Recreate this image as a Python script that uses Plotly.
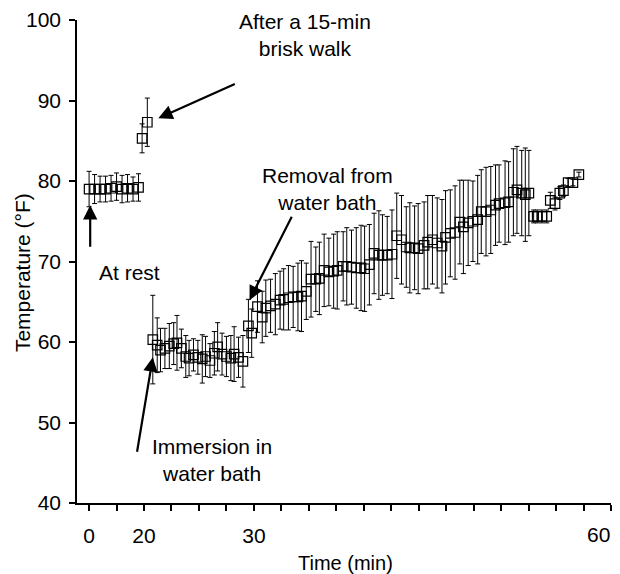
import numpy as np
import plotly.graph_objects as go

# ---------------- data (time in minutes, temperature in °F, ± error) -------------
rest_time = [0, 2, 4, 6, 8, 10, 12, 14, 16, 18]
rest_temp = [79.0, 79.0, 79.0, 79.0, 79.1, 79.3, 79.0, 79.1, 79.0, 79.2]
rest_err = [2.2, 1.8, 1.6, 1.6, 1.6, 1.7, 1.7, 1.7, 1.5, 1.7]

walk_time = [19.3, 20.3]
walk_temp = [85.3, 87.3]
walk_err = [1.8, 3.0]

immersion_time = [20.8, 21.2, 21.5, 21.9, 22.3, 22.7, 23.0, 23.4, 23.8, 24.1, 24.5, 24.9,
                  25.3, 25.6, 26.0, 26.4, 26.7, 27.1, 27.5, 27.9, 28.2, 28.6, 29.0]
immersion_temp = [60.3, 59.6, 59.0, 59.2, 59.5, 59.8, 59.9, 59.2, 58.2, 58.0, 58.4, 58.1,
                  57.9, 58.2, 57.7, 58.6, 59.4, 58.5, 58.2, 58.0, 58.5, 58.1, 57.6]
immersion_err = [5.5, 3.4, 2.7, 2.5, 2.8, 2.6, 3.4, 2.4, 2.6, 2.2, 2.0, 2.1,
                 3.0, 2.5, 2.1, 2.7, 3.0, 2.6, 2.5, 2.8, 3.4, 2.5, 3.2]

recovery_time = [29.5, 29.8, 30.3, 30.7, 31.0, 31.4, 31.8, 32.2, 32.5, 32.9, 33.3, 33.7,
                 34.0, 34.4, 34.8, 35.2, 35.5, 35.9, 36.3, 36.7, 37.0, 37.5, 37.8, 38.2,
                 38.6, 39.0, 39.3, 39.7, 40.1, 40.5, 40.8, 41.2, 41.6, 42.0, 42.4, 42.8,
                 43.1, 43.5, 43.8, 44.3, 44.6, 45.0, 45.4, 45.8, 46.1, 46.5, 46.9, 47.3,
                 47.6, 48.0, 48.4, 48.8, 49.1, 49.5, 49.9, 50.3, 50.6, 51.1, 51.4, 51.8,
                 52.1, 52.5, 52.8, 53.1, 53.5, 53.8, 54.2, 54.6, 54.9, 55.3, 55.7, 56.0,
                 56.4, 56.8, 57.3]
recovery_temp = [62.0, 61.1, 64.4, 63.1, 64.2, 64.5, 64.7, 65.2, 65.3, 65.5, 65.6, 65.6,
                 65.7, 66.3, 67.8, 67.8, 67.9, 68.9, 68.7, 68.8, 68.9, 69.4, 69.4, 69.3,
                 69.2, 69.2, 69.1, 69.6, 71.0, 70.8, 70.8, 70.8, 70.9, 73.2, 72.7, 71.8,
                 71.7, 71.7, 71.6, 72.0, 72.4, 72.7, 72.3, 71.9, 73.0, 73.5, 73.6, 74.9,
                 74.3, 74.8, 75.0, 75.2, 76.2, 76.2, 76.4, 77.0, 77.2, 77.3, 77.4, 78.6,
                 78.9, 78.5, 78.3, 78.5, 75.6, 75.6, 75.6, 75.6, 77.6, 77.2, 78.5, 78.8,
                 79.8, 79.8, 80.8]
recovery_err = [3.3, 3.0, 3.2, 3.2, 3.5, 3.3, 3.8, 3.6, 3.8, 4.0, 3.8, 4.2,
                4.4, 3.5, 4.7, 4.0, 4.5, 4.5, 4.2, 4.6, 4.8, 4.3, 4.8, 4.6,
                5.0, 5.3, 5.3, 5.0, 5.0, 5.5, 5.0, 4.8, 5.5, 5.3, 5.5, 5.0,
                5.6, 5.2, 5.6, 5.4, 5.8, 5.5, 5.6, 5.8, 5.8, 5.4, 5.8, 5.2,
                5.8, 5.3, 5.0, 5.5, 5.2, 5.5, 5.4, 5.0, 4.8, 5.2, 5.0, 5.4,
                5.4, 5.3, 5.8, 5.3, 0.8, 0.8, 0.8, 0.8, 1.0, 0.8, 0.8, 0.7,
                0.5, 0.4, 0.3]

# broken time axis: minutes -> axis position (0->0, 20->2, 30->6, 60->19)
axis_min = [0, 20, 30, 60]
axis_pos = [0, 2, 6, 19]
tick_labels = {0: "0", 2: "20", 6: "30"}


def to_axis(t):
    return np.interp(t, axis_min, axis_pos)


FONT = "Liberation Sans, Arial, Helvetica, sans-serif"
fig = go.Figure()

for t, y, e in [(rest_time, rest_temp, rest_err),
                (walk_time, walk_temp, walk_err),
                (immersion_time, immersion_temp, immersion_err),
                (recovery_time, recovery_temp, recovery_err)]:
    fig.add_trace(go.Scatter(
        x=to_axis(t), y=y, mode="markers",
        marker=dict(symbol="square-open", size=9.5, color="black", line=dict(width=1.2)),
        error_y=dict(type="data", array=e, visible=True, color="#000", thickness=1, width=2.5),
        showlegend=False, hoverinfo="skip", cliponaxis=False))

tickvals = list(range(0, 20))
ticktext = [tick_labels.get(v, "") for v in tickvals]

# the page body adds an 8px offset; the figure is sized to fill the rest of the window
fig.update_layout(
    width=612, height=566,
    margin=dict(l=69, r=9, t=12, b=71),
    paper_bgcolor="white", plot_bgcolor="white",
    font=dict(family=FONT, size=21, color="black"),
    xaxis=dict(range=[-0.44, 19.0], tickvals=tickvals, ticktext=ticktext,
               ticks="outside", ticklen=6, tickwidth=1.5, tickcolor="black",
               showline=True, linecolor="black", linewidth=1.5,
               showgrid=False, zeroline=False, ticklabelstandoff=7,
               automargin=False),
    yaxis=dict(range=[40, 100], tickvals=[40, 50, 60, 70, 80, 90, 100],
               ticks="outside", ticklen=6, tickwidth=1.5, tickcolor="black",
               showline=True, linecolor="black", linewidth=1.5,
               showgrid=False, zeroline=False, ticklabelstandoff=4,
               automargin=False),
)

# last x tick label, nudged inside the figure as in the reference
fig.add_annotation(x=19, y=0, xref="x", yref="paper", yshift=-31, xshift=1,
                   text="60", showarrow=False, xanchor="right", yanchor="middle",
                   font=dict(size=21, family=FONT))

# axis titles
fig.add_annotation(x=-0.103, y=0.478, xref="paper", yref="paper", text="Temperature (°F)",
                   textangle=-90, showarrow=False, font=dict(size=21, family=FONT),
                   xanchor="center", yanchor="middle")
fig.add_annotation(x=0.502, y=-0.124, xref="paper", yref="paper", text="Time (min)",
                   showarrow=False, font=dict(size=20, family=FONT),
                   xanchor="center", yanchor="middle")

# arrows (head at data location, tail offset in pixels)
arrows = [
    (21.3, 87.8, 78, -35),
    (0.4, 77.0, 0, 43),
    (29.6, 65.2, 43, -85),
    (20.8, 58.1, -16, 96),
]
for t, y, ax, ay in arrows:
    fig.add_annotation(x=float(to_axis(t)), y=y, xref="x", yref="y", ax=ax, ay=ay,
                       axref="pixel", ayref="pixel", text="", showarrow=True,
                       arrowhead=2, arrowsize=1.3, arrowwidth=2.2, arrowcolor="black")

labels = [
    ("After a 15-min<br>brisk walk", 0.427, 0.969),
    ("At rest", 0.099, 0.478),
    ("Removal from<br>water bath", 0.47, 0.650),
    ("Immersion in<br>water bath", 0.253, 0.089),
]
for txt, x, y in labels:
    fig.add_annotation(x=x, y=y, xref="paper", yref="paper", text=txt, showarrow=False,
                       font=dict(size=21, family=FONT), xanchor="center", yanchor="middle")

fig.write_html("out.html")
